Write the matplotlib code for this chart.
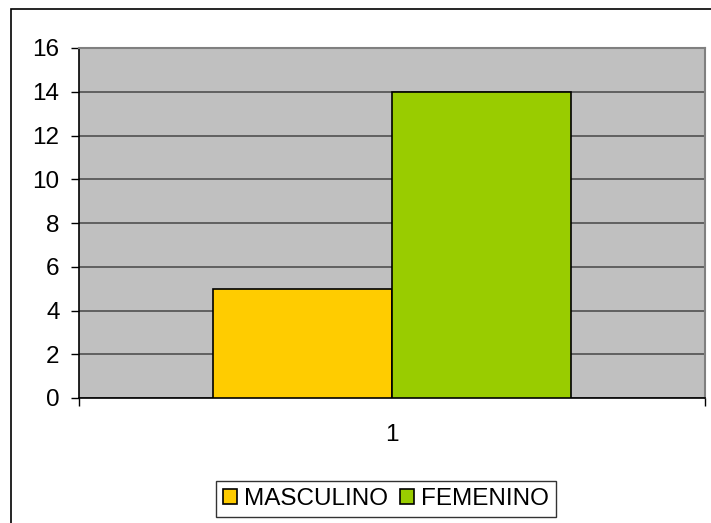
import matplotlib.pyplot as plt
from matplotlib.patches import Rectangle, Patch

# Data
categories = ['1']
series = ['MASCULINO', 'FEMENINO']
values = [5, 14]
colors = ['#FFCC00', '#99CC00']

plt.rcParams['font.family'] = ['Liberation Sans', 'DejaVu Sans']

fig = plt.figure(figsize=(7.11, 5.23), dpi=100)
ax = fig.add_axes([79 / 711, 125 / 523, 626 / 711, 350 / 523])

# outer chart frame (runs past right/bottom edges)
fig.patches.append(Rectangle((11 / 711, -0.2), 1.2, (523 - 9) / 523 + 0.2,
                             transform=fig.transFigure, fill=False,
                             edgecolor='black', linewidth=1.2, zorder=0))

ax.set_facecolor('#C0C0C0')
bar_w = 0.286
offsets = [-bar_w / 2, bar_w / 2]
for name, v, c, off in zip(series, values, colors, offsets):
    ax.bar(0 + off, v, width=bar_w, color=c, edgecolor='black',
           linewidth=1.2, label=name, zorder=3)

ax.set_xlim(-0.5, 0.5)
ax.set_ylim(0, 16)
ax.set_yticks(range(0, 17, 2))
ax.yaxis.grid(True, color='#505050', linewidth=1.2, zorder=1)
ax.set_axisbelow(True)

ax.set_xticks([0])
ax.set_xticklabels(categories)
ax.set_xticks([-0.5, 0.5], minor=True)
ax.tick_params(axis='x', which='major', length=0, pad=19, labelsize=17.5)
ax.tick_params(axis='x', which='minor', length=6, width=1, direction='out')
ax.tick_params(axis='y', length=6, width=1, direction='out', pad=8,
               labelsize=17.5)

for s in ['top', 'right']:
    ax.spines[s].set_color('#808080')
    ax.spines[s].set_linewidth(1.5)
for s in ['left', 'bottom']:
    ax.spines[s].set_color('black')
    ax.spines[s].set_linewidth(1.2)

handles = [Patch(facecolor=c, edgecolor='black', linewidth=1.2)
           for c in colors]
leg = fig.legend(handles, series, loc='center', ncol=2,
                 bbox_to_anchor=(386 / 711, (523 - 499) / 523),
                 fontsize=17.5, frameon=True, fancybox=False,
                 handlelength=0.55, handleheight=0.55, handletextpad=0.3,
                 columnspacing=0.5, borderpad=0.3)
leg.get_frame().set_edgecolor('black')
leg.get_frame().set_linewidth(1.0)

fig.savefig('out.png', dpi=100)
